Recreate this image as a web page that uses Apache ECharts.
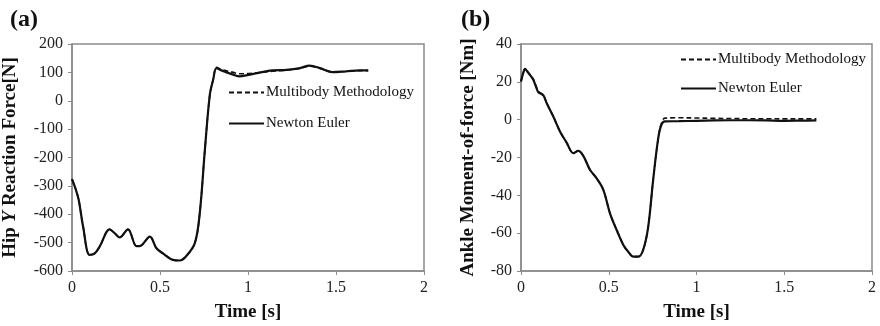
<!DOCTYPE html>
<html><head><meta charset="utf-8">
<script src="https://cdn.jsdelivr.net/npm/echarts@6/dist/echarts.min.js"></script>
<style>html,body{margin:0;padding:0;background:#fff}#c{width:880px;height:326px}</style>
</head><body><div id="c"></div>
<script>
// ---- data ----
var timeA = [0, 0.02, 0.038, 0.063, 0.1, 0.129, 0.157, 0.214, 0.243, 0.271, 0.318, 0.366, 0.385, 0.442, 0.48, 0.517, 0.574, 0.612, 0.65, 0.698, 0.726, 0.755, 0.783, 0.802, 0.821, 0.849, 0.916, 0.953, 1.03, 1.14, 1.22, 1.295, 1.35, 1.41, 1.48, 1.56, 1.636, 1.683];
var hipNewtonEuler = [-276, -310, -349, -443, -543, -538, -514, -453, -467, -482, -453, -512, -512, -479, -520, -538, -561, -563, -547, -502, -396, -173, 21, 74, 115, 107, 92, 86, 95, 107, 109, 115, 124, 115, 101, 104, 107, 107];
var hipMultibody = [-276, -310, -349, -443, -543, -538, -514, -453, -467, -482, -453, -512, -512, -479, -520, -538, -561, -563, -547, -502, -396, -173, 21, 74, 118, 110, 100, 95, 97, 104, 108, 114, 122, 114, 102, 103, 106, 106];

var timeB = [0, 0.012, 0.023, 0.036, 0.055, 0.07, 0.085, 0.099, 0.118, 0.13, 0.146, 0.184, 0.222, 0.26, 0.298, 0.326, 0.355, 0.393, 0.43, 0.469, 0.507, 0.545, 0.583, 0.611, 0.64, 0.668, 0.696, 0.725, 0.753, 0.782, 0.8, 0.82, 0.9, 1.0, 1.1, 1.2, 1.3, 1.4, 1.5, 1.6, 1.683];
var ankleNewtonEuler = [20.2, 24.5, 26.8, 25.5, 23.2, 21.1, 17.5, 14.4, 13.5, 12.5, 8.8, 1.7, -6.2, -12.1, -17.7, -16.5, -19.1, -26.5, -30.9, -37.1, -49.5, -58.3, -66.2, -69.8, -72.4, -72.4, -68.9, -56.5, -31.8, -9.8, -2.7, -0.9, -0.8, -0.6, -0.4, -0.3, -0.3, -0.4, -0.6, -0.5, -0.4];
var ankleMultibody = [20.2, 24.5, 26.8, 25.5, 23.2, 21.5, 18.0, 15.0, 13.8, 12.5, 8.8, 1.7, -6.2, -12.1, -17.7, -16.5, -19.1, -26.5, -30.9, -37.1, -49.5, -58.3, -66.2, -69.8, -72.4, -72.4, -68.9, -56.5, -31.8, -9.8, -2.0, 0.8, 1.0, 0.9, 0.7, 0.6, 0.5, 0.5, 0.4, 0.4, 0.4];

var xTicks = {min: 0, max: 2, interval: 0.5};
var yTicksA = {min: -600, max: 200, interval: 100};
var yTicksB = {min: -80, max: 40, interval: 20};
var nameMB = 'Multibody Methodology';
var nameNE = 'Newton Euler';

function pairs(xs, ys) { return xs.map(function (x, i) { return [x, ys[i]]; }); }

var FONT = '"Liberation Serif", "Times New Roman", serif';
var AX = '#8a8a8a';
function xAxis(gi) {
  return {
    gridIndex: gi, type: 'value', min: xTicks.min, max: xTicks.max, interval: xTicks.interval,
    name: 'Time [s]', nameLocation: 'middle', nameGap: 32,
    nameTextStyle: {fontFamily: FONT, fontWeight: 'bold', fontSize: 19, color: '#111'},
    axisLine: {show: true, onZero: false, lineStyle: {color: AX, width: 1.5}},
    axisTick: {show: true, length: 4, lineStyle: {color: AX}},
    axisLabel: {fontFamily: FONT, fontSize: 16, color: '#222', margin: 9},
    splitLine: {show: false}
  };
}
function yAxis(gi, t, name, gap) {
  return {
    gridIndex: gi, type: 'value', min: t.min, max: t.max, interval: t.interval,
    name: name, nameLocation: 'middle', nameGap: gap, nameRotate: 90,
    nameTextStyle: {fontFamily: FONT, fontWeight: 'bold', fontSize: 19, color: '#111',
      rich: {i: {fontFamily: FONT, fontWeight: 'bold', fontStyle: 'italic', fontSize: 19, color: '#111'}}},
    axisLine: {show: true, onZero: false, lineStyle: {color: AX, width: 1.5}},
    axisTick: {show: true, length: 4, lineStyle: {color: AX}},
    axisLabel: {fontFamily: FONT, fontSize: 16, color: '#222', margin: 9},
    splitLine: {show: false}
  };
}
function line(name, xi, data, dashed) {
  return {
    name: name, type: 'line', xAxisIndex: xi, yAxisIndex: xi, data: data,
    showSymbol: false, symbol: 'none', smooth: 0.35, animation: false,
    lineStyle: {color: '#111', width: dashed ? 1.6 : 2.2, type: dashed ? [5, 3] : 'solid'},
    itemStyle: {color: '#111'}, z: dashed ? 3 : 2
  };
}
function legend(left, top, gap) {
  return {data: [nameMB, nameNE], orient: 'vertical', left: left, top: top, padding: 0,
    itemWidth: 35, itemHeight: 14, itemGap: gap, itemStyle: {opacity: 0},
    textStyle: {fontFamily: FONT, fontSize: 15, color: '#111', padding: [0, 0, 0, -3]}, selectedMode: false};
}

var chart = echarts.init(document.getElementById('c'), null, {renderer: 'canvas'});
chart.setOption({
  animation: false,
  backgroundColor: '#fff',
  title: [
    {text: '(a)', left: 5, top: 3, textStyle: {fontFamily: FONT, fontWeight: 'bold', fontSize: 24, color: '#111'}},
    {text: '(b)', left: 456, top: 3, textStyle: {fontFamily: FONT, fontWeight: 'bold', fontSize: 24, color: '#111'}}
  ],
  grid: [
    {left: 72, top: 44, width: 352, height: 227, show: true, borderColor: AX, borderWidth: 1.5, backgroundColor: 'transparent', outerBoundsMode: 'none'},
    {left: 521, top: 44, width: 351, height: 227, show: true, borderColor: AX, borderWidth: 1.5, backgroundColor: 'transparent', outerBoundsMode: 'none'}
  ],
  legend: [legend(228, 85, 16), legend(680, 52, 14)],
  xAxis: [xAxis(0), xAxis(1)],
  yAxis: [
    yAxis(0, yTicksA, 'Hip {i|Y} Reaction Force[N]', 52),
    yAxis(1, yTicksB, 'Ankle Moment-of-force [Nm]', 43)
  ],
  series: [
    line(nameMB, 0, pairs(timeA, hipMultibody), true),
    line(nameNE, 0, pairs(timeA, hipNewtonEuler), false),
    line(nameMB, 1, pairs(timeB, ankleMultibody), true),
    line(nameNE, 1, pairs(timeB, ankleNewtonEuler), false)
  ]
});
</script></body></html>
